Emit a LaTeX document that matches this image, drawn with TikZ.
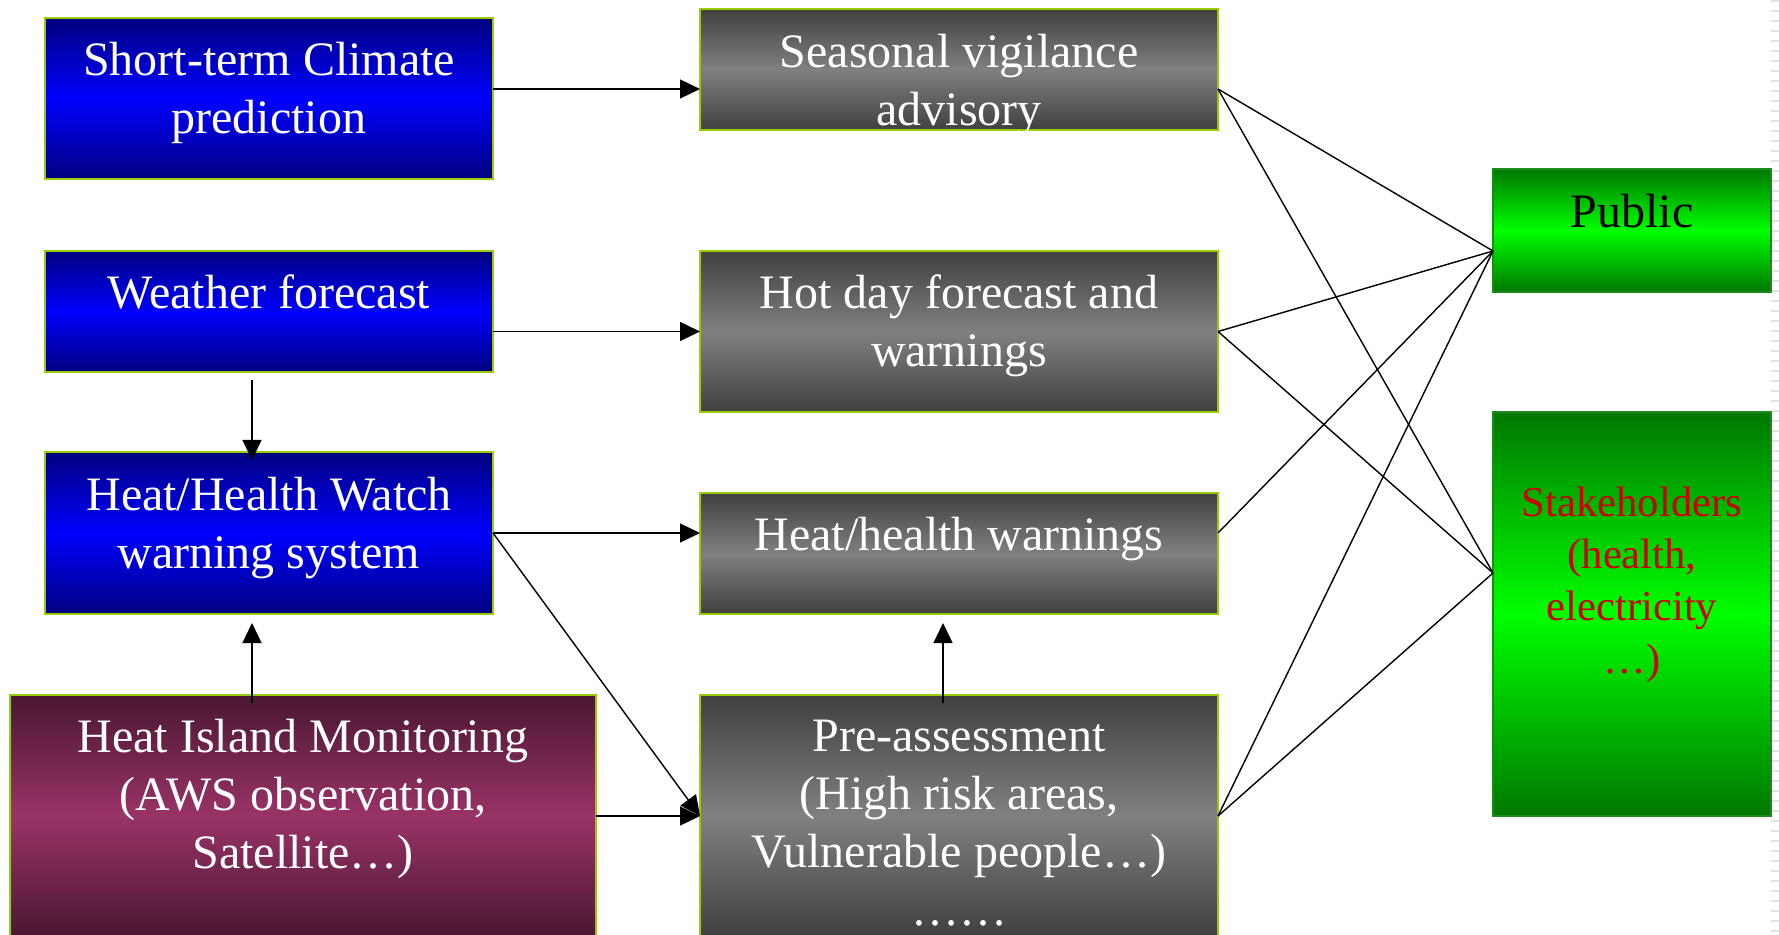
\documentclass[tikz,border=0pt]{standalone}
\usepackage{fontspec}
\setmainfont{Liberation Serif}
\usetikzlibrary{arrows.meta}

\definecolor{navyc}{HTML}{000080}
\definecolor{bluec}{HTML}{0000FF}
\definecolor{grayd}{HTML}{404040}
\definecolor{graym}{HTML}{808080}
\definecolor{plumd}{HTML}{4A1731}
\definecolor{plumm}{HTML}{993366}
\definecolor{greend}{HTML}{007800}
\definecolor{greenm}{HTML}{00FF00}
\definecolor{limeb}{HTML}{99CC00}
\definecolor{greenb}{HTML}{1E8A1E}
\definecolor{redt}{HTML}{CC0000}
\definecolor{stripe}{HTML}{E2E2E2}

\tikzset{
  box/.style={rectangle, draw=limeb, line width=1.2pt, inner sep=0pt, outer sep=0pt},
  bluebox/.style={box, top color=navyc, bottom color=navyc, middle color=bluec},
  graybox/.style={box, top color=grayd, bottom color=grayd, middle color=graym},
  plumbox/.style={box, top color=plumd, bottom color=plumd, middle color=plumm},
  greenbox/.style={rectangle, draw=greenb, line width=0.7pt, inner sep=0pt, outer sep=0pt,
    top color=greend, bottom color=greend, middle color=greenm},
  % labels are placed by the baseline of their last line
  lbl/.style={text=white, font=\fontsize{24}{29}\selectfont, align=center,
    inner sep=0pt, anchor=base},
  arr/.style={line width=0.7pt, -{Triangle[length=10pt,width=9.5pt]}},
  link/.style={line width=0.7pt},
}

\begin{document}
\begin{tikzpicture}[x=0.5pt, y=-0.5pt]
\useasboundingbox (0,0) rectangle (1779,935);
\clip (0,0) rectangle (1779,935);

% striped slide edge
\foreach \k in {0,...,93}
  \fill[stripe] (1771,{10*\k}) rectangle (1779,{10*\k+2});

% left column
\node[bluebox, minimum width=224pt, minimum height=80.5pt] (st) at (269,98.5) {};
\node[bluebox, minimum width=224pt, minimum height=60.5pt] (wf) at (269,311.5) {};
\node[bluebox, minimum width=224pt, minimum height=81pt]   (hh) at (269,533) {};
\node[plumbox, minimum width=293pt, minimum height=121pt]  (hi) at (303,816) {};

% middle column
\node[graybox, minimum width=259pt, minimum height=60.5pt] (sv) at (959,69.5) {};
\node[graybox, minimum width=259pt, minimum height=80.5pt] (hd) at (959,331.5) {};
\node[graybox, minimum width=259pt, minimum height=60.5pt] (hw) at (959,553.5) {};
\node[graybox, minimum width=259pt, minimum height=121pt]  (pa) at (959,816) {};

% right column
\node[greenbox, minimum width=139pt, minimum height=61.5pt] (pu) at (1632,230.5) {};
\node[greenbox, minimum width=139pt, minimum height=202pt]  (sh) at (1632,614) {};

% labels
\node[lbl] (stT) at ([yshift=-58pt]st.north) {Short-term Climate\\prediction};
\node[lbl] (wfT) at ([yshift=-29pt]wf.north) {Weather forecast};
\node[lbl] (hhT) at ([yshift=-58.3pt]hh.north) {Heat/Health Watch\\warning system};
\node[lbl] (hiT) at ([yshift=-86.8pt]hi.north) {Heat Island Monitoring\\(AWS observation,\\Satellite…)};
\node[lbl] (svT) at ([yshift=-58.2pt]sv.north) {Seasonal vigilance\\advisory};
\node[lbl] (hdT) at ([yshift=-58pt]hd.north) {Hot day forecast and\\warnings};
\node[lbl] (hwT) at ([yshift=-29pt]hw.north) {Heat/health warnings};
\node[lbl] (paT) at ([yshift=-115.3pt]pa.north) {Pre-assessment\\(High risk areas,\\Vulnerable people…)\\……};
\node[lbl, text=black] (puT) at ([yshift=-29.5pt]pu.north) {Public};
\node[lbl, text=redt, font=\fontsize{21.3}{26.2}\selectfont] (shT) at ([yshift=-130.6pt]sh.north)
  {Stakeholders\\(health,\\electricity\\…)};

% arrows between sources and products
\draw[arr] ([yshift=4.75pt]st.east) -- ([yshift=4.75pt]st.east -| sv.west);
\draw[arr] (wf.east |- hd.west) -- (hd.west);
\draw[arr] (hh.east) -- (hh.east -| hw.west);
\draw[arr] (hi.east) -- (pa.west);
\draw[arr] (hh.east) -- (pa.west);
\draw[arr] ([xshift=-8.5pt,yshift=-4pt]wf.south) -- ([xshift=-8.5pt,yshift=-4pt]hh.north);
\draw[arr] ([xshift=-25.5pt,yshift=-4pt]hi.north) -- ([xshift=-8.5pt,yshift=-4.5pt]hh.south);
\draw[arr] ([xshift=-8pt,yshift=-4pt]pa.north) -- ([xshift=-8pt,yshift=-4.5pt]hw.south);

% links to the audiences
\coordinate (svR) at ([yshift=-9.75pt]sv.east);
\coordinate (hdR) at (hd.east);
\coordinate (hwR) at ([yshift=10.25pt]hw.east);
\coordinate (paR) at (pa.east);
\coordinate (puL) at ([yshift=-10.25pt]pu.west);
\coordinate (shL) at ([yshift=20.5pt]sh.west);

\draw[link] (svR) -- (puL);
\draw[link] (svR) -- (shL);
\draw[link] (hdR) -- (puL);
\draw[link] (hdR) -- (shL);
\draw[link] (hwR) -- (puL);
\draw[link] (paR) -- (puL);
\draw[link] (paR) -- (shL);
\end{tikzpicture}
\end{document}
